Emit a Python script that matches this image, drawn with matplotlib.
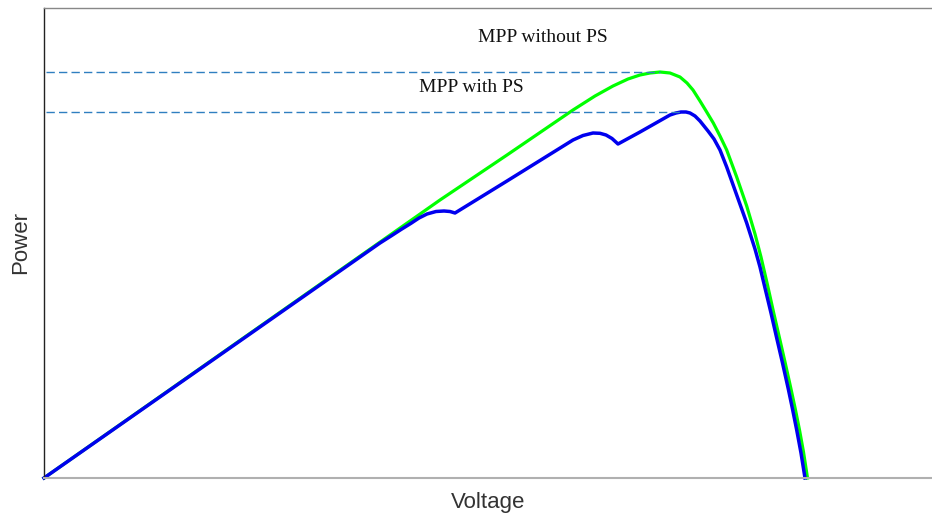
import numpy as np
import matplotlib.pyplot as plt

# P-V curve of the string under uniform irradiance (arbitrary units)
v_uniform = [0, 396, 463, 529, 551, 569, 584, 596, 606, 616,
             626, 636, 643, 649, 656, 662.7, 669.3, 676, 682.7, 692.7,
             702.7, 711, 717, 723.5, 729.5, 735.5, 741, 747, 751.5, 755.5,
             759.5, 763.5]
p_uniform = [0, 278, 323, 368, 382, 392, 399, 403, 405, 406,
             405, 401, 395, 388, 377, 366, 355, 342, 328, 301,
             272, 244, 221, 193, 166, 140, 116, 89, 68, 48,
             26, 0]

# P-V curve under partial shading: local maxima and bypass diode kinks
v_shaded = [0, 336, 347, 357, 367, 375, 383, 392, 400, 406,
            411, 463, 529, 539, 549, 556, 562, 568, 574, 596,
            626, 632, 637, 642, 646, 651, 656, 664, 670, 676,
            682.7, 692.7, 702.7, 711, 716, 721, 727, 732.7, 738.5, 744.3,
            748.5, 752.7, 757, 761]
p_shaded = [0, 235, 242, 248.5, 254.7, 260, 264, 266.5, 267, 266.5,
            265, 297, 338, 342.5, 345, 344.7, 343, 339.5, 334, 346,
            363, 365, 366, 366, 365, 362, 357, 347, 339, 328,
            311, 283, 255, 229, 211, 190, 165, 140, 115, 89,
            69, 48, 25, 0]

labels = ['MPP without PS', 'MPP with PS']

fig = plt.figure(figsize=(9.32, 5.16), dpi=100)
ax = fig.add_axes([44 / 932, 38 / 516, 888 / 932, 470 / 516])

ax.plot(v_uniform, p_uniform, color='#00ff00', lw=2.3, clip_on=False)
ax.plot(v_shaded, p_shaded, color='#0000ee', lw=2.5, clip_on=False)

# dashed guides out to each maximum power point
for v, p in [(v_uniform, p_uniform), (v_shaded, p_shaded)]:
    i = int(np.argmax(p))
    ax.plot([2, v[i]], [p[i], p[i]], color='#2f7fc0', lw=1.0, dashes=(6, 3))

ax.text(499, 440, labels[0], ha='center', va='center', fontsize=14,
        family='Liberation Serif', color='#111111')
ax.text(427.5, 390, labels[1], ha='center', va='center', fontsize=14,
        family='Liberation Serif', color='#111111')

ax.set_xlim(0, 888)
ax.set_ylim(0, 470)
ax.set_xticks([])
ax.set_yticks([])

ax.spines['right'].set_visible(False)
ax.spines['left'].set_color('#222222')
ax.spines['left'].set_linewidth(1.0)
ax.spines['top'].set_color('#888888')
ax.spines['top'].set_linewidth(1.0)
ax.spines['bottom'].set_color('#b0b0b0')
ax.spines['bottom'].set_linewidth(1.5)

ax.set_xlabel('Voltage', fontsize=16, family='Liberation Sans', color='#333333', labelpad=10)
ax.set_ylabel('Power', fontsize=16, family='Liberation Sans', color='#333333', labelpad=9)

fig.savefig('out.png', dpi=100)
